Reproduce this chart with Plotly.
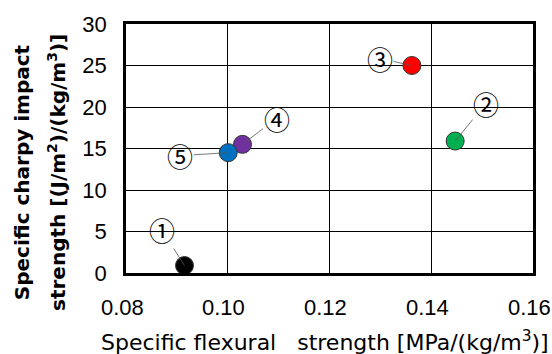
import plotly.graph_objects as go

labels = ["①", "②", "③", "④", "⑤"]
flexural = [0.0915, 0.1447, 0.1362, 0.1029, 0.1001]
charpy = [0.9, 15.9, 25.0, 15.5, 14.5]
colors = ["#000000", "#00b050", "#ff0000", "#7030a0", "#0070c0"]
label_offsets = [(-23, -36), (31, -38), (-32, -7), (34, -26), (-48, 3)]
x_ticks = [0.08, 0.10, 0.12, 0.14, 0.16]
x_tick_text = ["0.08", "0.10", "0.12", "0.14", "0.16"]
y_ticks = [0, 5, 10, 15, 20, 25, 30]

FONT = "Liberation Sans"
TITLE_FONT = "DejaVu Sans"
LABEL_FONT = "Noto Sans CJK JP"

fig = go.Figure()
fig.add_trace(go.Scatter(
    x=flexural, y=charpy, mode="markers",
    marker=dict(size=18, color=colors, line=dict(color="#333333", width=1)),
    showlegend=False, cliponaxis=False,
))

annotations = []
for lab, xv, yv, (ax, ay) in zip(labels, flexural, charpy, label_offsets):
    annotations.append(dict(
        x=xv, y=yv, xref="x", yref="y", text=lab, showarrow=True,
        ax=ax, ay=ay, arrowhead=0, arrowwidth=0.8, arrowcolor="#555555",
        font=dict(family=LABEL_FONT, size=26, color="#000000"), standoff=0,
        borderpad=0,
    ))

# x tick labels (drawn as annotations so the last one is not dropped at the edge)
for tv, tt in zip(x_ticks, x_tick_text):
    annotations.append(dict(
        x=tv, y=0, xref="x", yref="paper", text=tt, showarrow=False,
        xanchor="center", yanchor="middle", xshift=-4, yshift=-34,
        font=dict(family=FONT, size=22, color="#000000"),
    ))

annotations.append(dict(
    text="Specific flexural\u00a0\u00a0\u00a0strength [MPa/(kg/m<sup>3</sup>)]",
    xref="paper", yref="paper", x=0.49, y=-0.275, xanchor="center", yanchor="middle",
    showarrow=False, font=dict(family=TITLE_FONT, size=22, color="#000000"),
))
annotations.append(dict(
    text="<b>Specific charpy impact</b>",
    xref="paper", yref="paper", x=-0.2555, y=0.405, xanchor="center", yanchor="middle",
    textangle=-90, showarrow=False,
    font=dict(family=TITLE_FONT, size=20, color="#000000"),
))
annotations.append(dict(
    text="<b>strength [(J/m<sup>2</sup>)/(kg/m<sup>3</sup>)]</b>",
    xref="paper", yref="paper", x=-0.17, y=0.405, xanchor="center", yanchor="middle",
    textangle=-90, showarrow=False,
    font=dict(family=TITLE_FONT, size=20, color="#000000"),
))

fig.update_layout(
    width=552, height=354,
    margin=dict(l=126, r=19, t=22, b=81),
    plot_bgcolor="white", paper_bgcolor="white",
    font=dict(family=FONT, size=20, color="#000000"),
    annotations=annotations,
)
fig.update_xaxes(
    range=[0.08, 0.16], tickvals=x_ticks, showticklabels=False,
    showgrid=True, gridcolor="#000000", gridwidth=1.3,
    showline=True, linecolor="#000000", linewidth=2.5, mirror=True,
    zeroline=False, ticks="",
)
fig.update_yaxes(
    range=[0, 30], tickvals=y_ticks,
    showgrid=True, gridcolor="#000000", gridwidth=1.3,
    showline=True, linecolor="#000000", linewidth=2.5, mirror=True,
    zeroline=False, ticks="", ticklabelstandoff=12,
    tickfont=dict(family=FONT, size=22, color="#000000"),
)

fig.write_html("out.html")
